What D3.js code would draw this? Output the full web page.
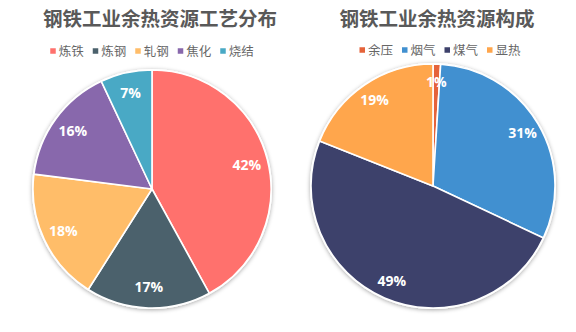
<!DOCTYPE html>
<html><head><meta charset="utf-8">
<script src="https://cdn.jsdelivr.net/npm/d3@7"></script>
<style>html,body{margin:0;padding:0;background:#fff;}svg{display:block;}</style>
</head><body>
<svg id="c" width="576" height="332"></svg>
<script>
const leftTitle = "钢铁工业余热资源工艺分布";
const leftCategories = ["炼铁", "炼钢", "轧钢", "焦化", "烧结"];
const leftValues = [42, 17, 18, 16, 7];
const leftColors = ["#FF716D", "#4B616C", "#FFBD69", "#8868AC", "#49A9C5"];

const rightTitle = "钢铁工业余热资源构成";
const rightCategories = ["余压", "烟气", "煤气", "显热"];
const rightValues = [1, 31, 49, 19];
const rightColors = ["#E5633A", "#4190D0", "#3D416B", "#FFA64C"];

const svg = d3.select("#c");
const defs = svg.append("defs");
const f = defs.append("filter").attr("id","sh").attr("x","-20%").attr("y","-20%").attr("width","140%").attr("height","140%");
f.append("feDropShadow").attr("dx",0).attr("dy",1).attr("stdDeviation",2.2).attr("flood-color","#000").attr("flood-opacity",0.35);

function drawChart(cfg){
  const g = svg.append("g");
  g.append("text").attr("x", cfg.titleX).attr("y", 26).attr("text-anchor","middle")
    .attr("font-family","'Noto Sans CJK SC', sans-serif").attr("font-weight","bold")
    .attr("font-size", 19.5).attr("fill","#595959").text(cfg.title);

  // legend
  const fs = 12.5, sq = 5.5, gapIn = 3, gapOut = 9;
  const itemW = cfg.categories.map(c => sq + gapIn + c.length * fs);
  const total = d3.sum(itemW) + gapOut * (itemW.length - 1);
  let x = cfg.legendX - total / 2;
  const lg = g.append("g");
  cfg.categories.forEach((c, i) => {
    lg.append("rect").attr("x", x).attr("y", cfg.legendY - sq/2).attr("width", sq).attr("height", sq).attr("fill", cfg.colors[i]);
    lg.append("text").attr("x", x + sq + gapIn).attr("y", cfg.legendY).attr("dy","0.36em")
      .attr("font-family","'Noto Sans CJK SC', sans-serif").attr("font-size", fs).attr("fill","#666").text(c);
    x += itemW[i] + gapOut;
  });

  const pie = d3.pie().sort(null).value(d => d)(cfg.values);
  const arc = d3.arc().innerRadius(0).outerRadius(cfg.r);
  const labelArc = d3.arc().innerRadius(cfg.lr).outerRadius(cfg.lr);
  const pg = g.append("g").attr("transform", `translate(${cfg.cx},${cfg.cy})`);
  pg.append("circle").attr("r", cfg.r + 1).attr("fill","#fff").attr("filter","url(#sh)");
  pg.selectAll("path").data(pie).join("path").attr("d", arc)
    .attr("fill", (d,i) => cfg.colors[i]).attr("stroke","#fff").attr("stroke-width",1.6).attr("stroke-linejoin","round");
  pg.selectAll("text.l").data(pie).join("text").attr("class","l")
    .attr("transform", d => `translate(${labelArc.centroid(d)})`)
    .attr("text-anchor","middle").attr("dy","0.36em")
    .attr("font-family","'Open Sans', sans-serif").attr("font-weight","bold").attr("font-size",14)
    .attr("fill","#fff").text(d => d.data + "%");
}

drawChart({title: leftTitle, categories: leftCategories, values: leftValues, colors: leftColors,
  titleX: 160, legendX: 152, legendY: 51, cx: 152, cy: 189, r: 119, lr: 98});
drawChart({title: rightTitle, categories: rightCategories, values: rightValues, colors: rightColors,
  titleX: 437, legendX: 440, legendY: 50, cx: 433, cy: 186, r: 122, lr: 104});
</script>
</body></html>
